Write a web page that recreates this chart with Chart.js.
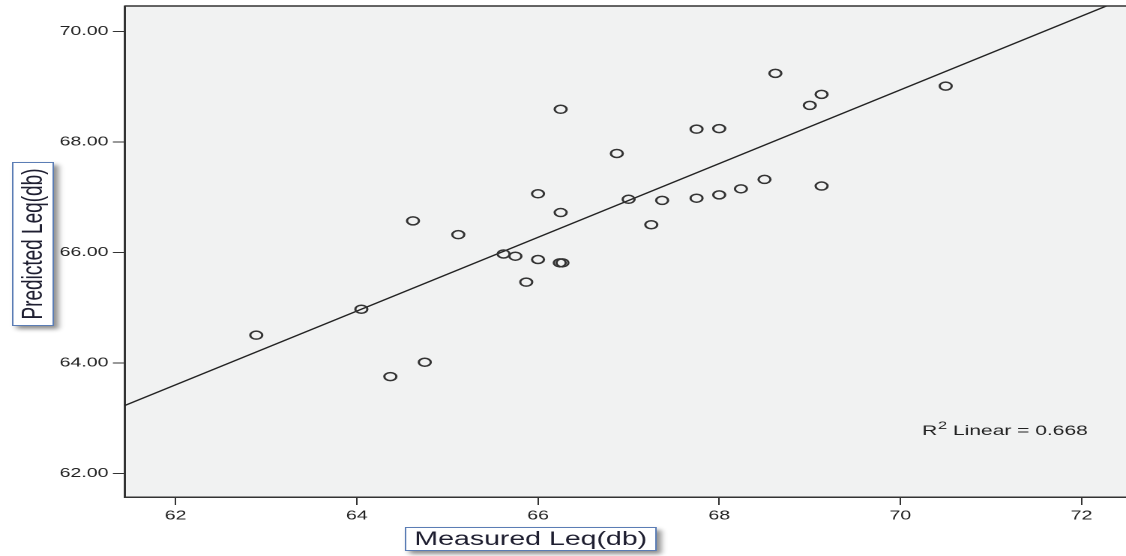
<!DOCTYPE html>
<html>
<head>
<meta charset="utf-8">
<script src="https://cdn.jsdelivr.net/npm/chart.js@4.4.1/dist/chart.umd.min.js"></script>
<style>
  html, body { margin: 0; padding: 0; background: #fff; overflow: hidden; }
  /* the reference picture is stretched sideways, so the chart is too */
  #wrap { position: absolute; left: 0; top: 0; width: 751px; height: 556px; transform: scaleX(1.4993); transform-origin: 0 0; }
  #chart-scatter { display: block; }
</style>
</head>
<body>
<div id="wrap"><canvas id="chart-scatter" width="751" height="556"></canvas></div>
<script>
// data
var measured = [62.89, 64.05, 64.37, 64.75, 64.62, 65.12, 65.62, 65.75, 65.87, 66.00,
                66.00, 66.25, 66.24, 66.27, 66.25, 66.87, 67.00, 67.25, 67.37, 67.75,
                67.75, 68.00, 68.00, 68.24, 68.50, 68.62, 69.00, 69.13, 69.13, 70.50];
var predicted = [64.50, 64.97, 63.75, 64.01, 66.57, 66.32, 65.97, 65.93, 65.46, 65.87,
                 67.06, 66.72, 65.81, 65.81, 68.59, 67.79, 66.96, 66.50, 66.94, 66.98,
                 68.23, 68.24, 67.04, 67.15, 67.32, 69.24, 68.66, 68.86, 67.20, 69.01];
var xTicks = [62, 64, 66, 68, 70, 72];
var yTicks = [62, 64, 66, 68, 70];
var xRange = [61.44, 72.49];
var yRange = [61.57, 70.46];
var fitSlope = 0.6676;
var fitIntercept = 22.21;
var rSquared = "0.668";
var xTitle = "Measured Leq(db)";
var yTitle = "Predicted Leq(db)";

var points = measured.map(function (m, i) { return { x: m, y: predicted[i] }; });
var fitLine = xRange.map(function (x) { return { x: x, y: fitIntercept + fitSlope * x }; });

var FONT = "Liberation Sans, Arial, sans-serif";

function titleBox(chart, x, y, w, h) {
  var ctx = chart.ctx;
  var dpr = chart.currentDevicePixelRatio || 1;
  ctx.save();
  ctx.shadowColor = "rgba(0,0,0,0.45)";
  ctx.shadowBlur = 4 * dpr;
  ctx.shadowOffsetX = 3 * dpr;
  ctx.shadowOffsetY = 3 * dpr;
  ctx.fillStyle = "#fff";
  ctx.fillRect(x, y, w, h);
  ctx.restore();
  ctx.save();
  ctx.strokeStyle = "#5b7db5";
  ctx.lineWidth = 1;
  ctx.strokeRect(x + 0.5, y + 0.5, w - 1, h - 1);
  ctx.restore();
}

var spssFrame = {
  id: "spssFrame",
  beforeDraw: function (chart) {
    var a = chart.chartArea, ctx = chart.ctx;
    ctx.save();
    ctx.fillStyle = "#f1f2f2";
    ctx.fillRect(a.left, a.top, a.right - a.left, a.bottom - a.top);
    ctx.restore();
  },
  afterDraw: function (chart) {
    var a = chart.chartArea, ctx = chart.ctx;
    // top frame line
    ctx.save();
    ctx.strokeStyle = "#333";
    ctx.lineWidth = 1.5;
    ctx.beginPath();
    ctx.moveTo(a.left, a.top);
    ctx.lineTo(a.right, a.top);
    ctx.stroke();

    // R2 label
    var rx = a.right - 136, ry = a.bottom - 62;
    ctx.fillStyle = "#222";
    ctx.textBaseline = "alphabetic";
    ctx.textAlign = "left";
    ctx.font = "14px " + FONT;
    ctx.fillText("R", rx, ry);
    var w = ctx.measureText("R").width;
    ctx.font = "11px " + FONT;
    ctx.fillText("2", rx + w + 0.5, ry - 6);
    w += ctx.measureText("2").width + 0.5;
    ctx.font = "14px " + FONT;
    ctx.fillText(" Linear = " + rSquared, rx + w, ry);
    ctx.restore();

    // axis titles in boxes
    titleBox(chart, 270, 527, 168, 24);
    titleBox(chart, 8, 162, 28, 164);
    ctx.save();
    ctx.fillStyle = "#1e1e30";
    ctx.font = "19px " + FONT;
    ctx.textAlign = "center";
    ctx.textBaseline = "middle";
    ctx.fillText(xTitle, 354, 540);
    ctx.translate(23, 244);
    ctx.rotate(-Math.PI / 2);
    ctx.fillText(yTitle, 0, 0);
    ctx.restore();
  }
};

function noPad(scale) {
  scale.paddingLeft = 0;
  scale.paddingRight = 0;
  scale.paddingTop = 0;
  scale.paddingBottom = 0;
}

var ctx = document.getElementById("chart-scatter").getContext("2d");

new Chart(ctx, {
  type: "scatter",
  data: {
    datasets: [
      {
        label: "Leq",
        data: points,
        pointStyle: "circle",
        pointRadius: 4,
        pointBorderWidth: 1.5,
        borderColor: "#333",
        backgroundColor: "rgba(0,0,0,0)",
        order: 1
      },
      {
        type: "line",
        label: "Linear",
        data: fitLine,
        borderColor: "#222",
        borderWidth: 1.3,
        pointRadius: 0,
        fill: false,
        tension: 0,
        order: 2
      }
    ]
  },
  options: {
    responsive: false,
    animation: false,
    devicePixelRatio: 2,
    layout: { autoPadding: false, padding: { left: 0, top: 6, right: 0, bottom: 0 } },
    plugins: {
      legend: { display: false },
      tooltip: { enabled: false }
    },
    scales: {
      x: {
        type: "linear",
        min: xRange[0],
        max: xRange[1],
        afterBuildTicks: function (scale) {
          scale.ticks = xTicks.map(function (v) { return { value: v }; });
        },
        afterFit: function (scale) { scale.height = 59; noPad(scale); },
        grid: {
          drawOnChartArea: false,
          drawTicks: true,
          tickLength: 8,
          color: "#333",
          lineWidth: 1
        },
        border: { display: true, color: "#333", width: 1.5 },
        ticks: {
          padding: 3,
          maxRotation: 0,
          color: "#222",
          font: { size: 13, family: FONT },
          callback: function (v) { return String(v); }
        }
      },
      y: {
        type: "linear",
        min: yRange[0],
        max: yRange[1],
        afterBuildTicks: function (scale) {
          scale.ticks = yTicks.map(function (v) { return { value: v }; });
        },
        afterFit: function (scale) { scale.width = 83.3; noPad(scale); },
        grid: {
          drawOnChartArea: false,
          drawTicks: true,
          tickLength: 8,
          color: "#333",
          lineWidth: 1
        },
        border: { display: true, color: "#333", width: 1.5 },
        ticks: {
          padding: 3,
          color: "#222",
          font: { size: 13, family: FONT },
          callback: function (v) { return v.toFixed(2); }
        }
      }
    }
  },
  plugins: [spssFrame]
});
</script>
</body>
</html>
